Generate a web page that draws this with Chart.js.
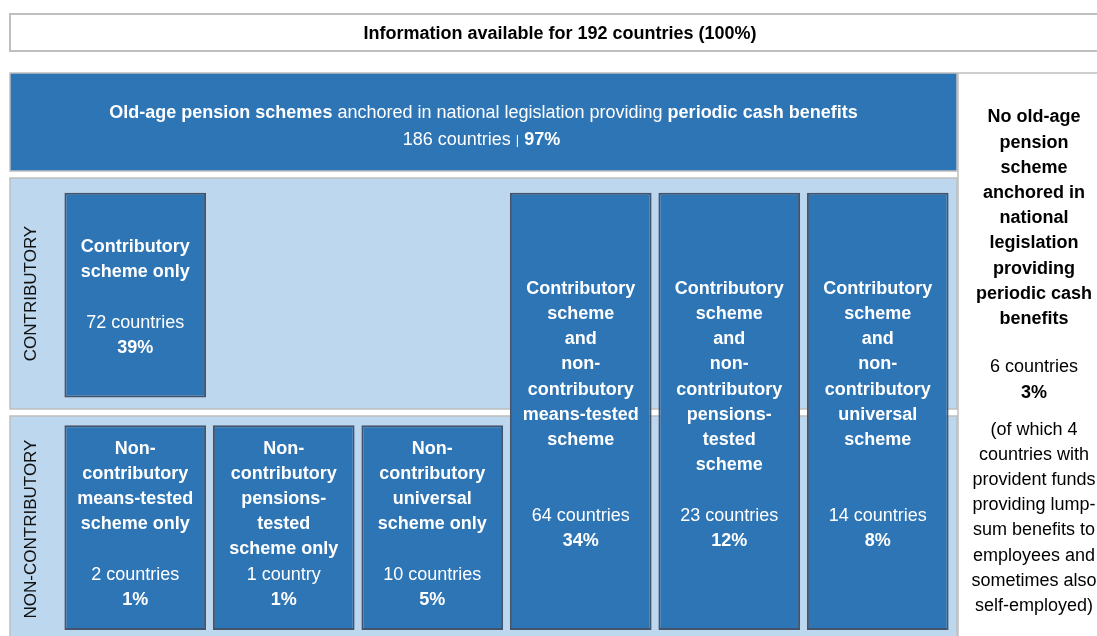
<!DOCTYPE html>
<html lang="en">
<head>
<meta charset="UTF-8">
<title>Old-age pension schemes anchored in national legislation</title>
<style>
  body { margin: 0; padding: 0; background: #ffffff; }
  .wrap { position: relative; width: 1097px; height: 636px; }
</style>
</head>
<body>
<div class="wrap"><canvas id="schemes"></canvas></div>

<script src="https://cdn.jsdelivr.net/npm/chart.js"></script>
<script>
// ---- data ----
const totalCountries = 192;
const coveredCountries = 186;
const coveredShare = 97;
const noneCountries = 6;
const noneShare = 3;
const noneProvident = 4;

// columns of the diagram
const columns = [
  'Contributory only / Non-contributory means-tested only',
  'Non-contributory pensions-tested only',
  'Non-contributory universal only',
  'Contributory + non-contributory means-tested',
  'Contributory + non-contributory pensions-tested',
  'Contributory + non-contributory universal'
];

const schemeTitles = [
  ['Contributory', 'scheme only'],
  ['Non-', 'contributory', 'means-tested', 'scheme only'],
  ['Non-', 'contributory', 'pensions-', 'tested', 'scheme only'],
  ['Non-', 'contributory', 'universal', 'scheme only'],
  ['Contributory', 'scheme', 'and', 'non-', 'contributory', 'means-tested', 'scheme'],
  ['Contributory', 'scheme', 'and', 'non-', 'contributory', 'pensions-', 'tested', 'scheme'],
  ['Contributory', 'scheme', 'and', 'non-', 'contributory', 'universal', 'scheme']
];
const schemeColumn = [columns[0], columns[0], columns[1], columns[2], columns[3], columns[4], columns[5]];
const schemeCountries = [72, 2, 1, 10, 64, 23, 14];
const schemeShares = [39, 1, 1, 5, 34, 12, 8];
const hasContributory = [true, false, false, false, true, true, true];
const hasNonContributory = [false, true, true, true, true, true, true];

// rows on the y axis: 0 = non-contributory, 1 = contributory
const FONT = '"Liberation Sans", Arial, sans-serif';
const DARK_BLUE = '#2e75b6';
const LIGHT_BLUE = '#bdd7ee';
const GREY = '#bfbfbf';
const TEXT_DY = 2.5; // nudge so 'middle' matches cap-height centre

function rowRange(i) {
  const lo = hasNonContributory[i] ? 0 : 1;
  const hi = hasContributory[i] ? 2 : 1;
  // small insets so the boxes sit inside the row bands
  return [lo + (lo === 0 ? 0.026 : 0.041), hi - (hi === 2 ? 0.064 : 0.080)];
}

function drawRuns(ctx, runs, cx, cy, color) {
  let total = 0;
  runs.forEach(r => {
    ctx.font = (r.bold ? 'bold ' : '') + (r.size || 18) + 'px ' + FONT;
    r.w = ctx.measureText(r.text).width;
    total += r.w;
  });
  let x = cx - total / 2;
  ctx.fillStyle = color;
  ctx.textAlign = 'left';
  ctx.textBaseline = 'middle';
  runs.forEach(r => {
    ctx.font = (r.bold ? 'bold ' : '') + (r.size || 18) + 'px ' + FONT;
    ctx.fillText(r.text, x, cy + TEXT_DY);
    x += r.w;
  });
}

function drawLines(ctx, lines, cx, y0, pitch, color) {
  ctx.fillStyle = color;
  ctx.textAlign = 'center';
  ctx.textBaseline = 'middle';
  lines.forEach((l, k) => {
    if (!l.text) return;
    ctx.font = (l.bold ? 'bold ' : '') + '18px ' + FONT;
    ctx.fillText(l.text, cx, y0 + k * pitch + TEXT_DY);
  });
}

const PITCH = 25.2;

const schemeLayout = {
  id: 'schemeLayout',
  beforeDatasetsDraw(chart) {
    const ctx = chart.ctx;
    const ca = chart.chartArea;
    const y = chart.scales.y;
    const left = 10, right = ca.right + 5;
    ctx.save();

    // top box
    ctx.fillStyle = '#ffffff';
    ctx.strokeStyle = GREY;
    ctx.lineWidth = 2;
    ctx.fillRect(left, 14, 1100, 37);
    ctx.strokeRect(left, 14, 1100, 37);
    drawRuns(ctx, [{ text: 'Information available for ' + totalCountries + ' countries (100%)', bold: true }], 560, 32, '#000');

    // header
    const hTop = ca.top - 105, hBot = ca.top - 7;
    ctx.fillStyle = DARK_BLUE;
    ctx.fillRect(left, hTop, right - left, hBot - hTop);
    ctx.lineWidth = 1.5;
    ctx.strokeRect(left, hTop, right - left, hBot - hTop);
    drawRuns(ctx, [
      { text: 'Old-age pension schemes', bold: true },
      { text: ' anchored in national legislation providing ' },
      { text: 'periodic cash benefits', bold: true }
    ], (left + right) / 2, hTop + 38, '#ffffff');
    drawRuns(ctx, [
      { text: coveredCountries + ' countries ' },
      { text: '|', size: 13 },
      { text: ' ' + coveredShare + '%', bold: true }
    ], (left + right) / 2 - 2, hTop + 65, '#ffffff');

    // row bands
    const mid = y.getPixelForValue(1);
    const bands = [
      { top: y.getPixelForValue(2), bot: mid + 2, label: 'CONTRIBUTORY' },
      { top: mid + 9, bot: ca.bottom + 6, label: 'NON-CONTRIBUTORY' }
    ];
    bands.forEach(b => {
      ctx.fillStyle = LIGHT_BLUE;
      ctx.fillRect(left, b.top, right - left, b.bot - b.top);
      ctx.strokeStyle = GREY;
      ctx.lineWidth = 1.5;
      ctx.strokeRect(left, b.top, right - left, b.bot - b.top);
      ctx.save();
      ctx.translate(31, (b.top + b.bot) / 2);
      ctx.rotate(-Math.PI / 2);
      ctx.fillStyle = '#111';
      ctx.font = '17px ' + FONT;
      ctx.textAlign = 'center';
      ctx.textBaseline = 'middle';
      ctx.fillText(b.label, 0, 0);
      ctx.restore();
    });

    // right column: no scheme
    const rx = right + 1;
    ctx.fillStyle = '#ffffff';
    ctx.fillRect(rx, hTop, 160, 640 - hTop);
    ctx.strokeStyle = GREY;
    ctx.lineWidth = 1.5;
    ctx.strokeRect(rx, hTop, 160, 640 - hTop);
    const cx = rx + 76;
    const title = ['No old-age', 'pension', 'scheme', 'anchored in', 'national', 'legislation', 'providing', 'periodic cash', 'benefits'];
    drawLines(ctx, title.map(t => ({ text: t, bold: true })), cx, hTop + 42, PITCH, '#000');
    const y2 = hTop + 42 + (title.length + 1) * PITCH - 2;
    drawLines(ctx, [{ text: noneCountries + ' countries' }, { text: noneShare + '%', bold: true }], cx, y2, PITCH, '#000');
    const note = ['(of which ' + noneProvident, 'countries with', 'provident funds', 'providing lump-', 'sum benefits to', 'employees and', 'sometimes also', 'self-employed)'];
    drawLines(ctx, note.map(t => ({ text: t })), cx, y2 + PITCH + 37, PITCH, '#000');

    ctx.restore();
  },
  afterDatasetsDraw(chart) {
    const ctx = chart.ctx;
    const meta = chart.getDatasetMeta(0);
    ctx.save();
    meta.data.forEach((bar, i) => {
      const title = schemeTitles[i];
      const span = (hasContributory[i] ? 1 : 0) + (hasNonContributory[i] ? 1 : 0);
      const slots = hasNonContributory[i] ? 4 * span + 1 : title.length + 1;
      const lines = title.map(t => ({ text: t, bold: true }));
      for (let k = title.length; k < slots; k++) lines.push({ text: '' });
      const n = schemeCountries[i];
      lines.push({ text: n + (n === 1 ? ' country' : ' countries') });
      lines.push({ text: schemeShares[i] + '%', bold: true });
      const top = Math.min(bar.y, bar.base), bot = Math.max(bar.y, bar.base);
      let c = (top + bot) / 2;
      if (!hasContributory[i]) c -= 6;
      else if (span === 2) c += 1;
      const y0 = c - (lines.length - 1) / 2 * PITCH;
      drawLines(ctx, lines, bar.x, y0, PITCH, '#ffffff');
    });
    ctx.restore();
  }
};

new Chart(document.getElementById('schemes'), {
  type: 'bar',
  data: {
    labels: columns,
    datasets: [{
      label: 'Schemes',
      data: schemeTitles.map((t, i) => ({ x: schemeColumn[i], y: rowRange(i) })),
      backgroundColor: DARK_BLUE,
      borderColor: '#44546a',
      borderWidth: 2,
      borderSkipped: false,
      categoryPercentage: 0.954,
      barPercentage: 1
    }]
  },
  options: {
    responsive: true,
    maintainAspectRatio: false,
    animation: false,
    layout: { padding: { left: 61, right: 145, top: 178, bottom: 0 } },
    plugins: {
      legend: { display: false },
      tooltip: { enabled: false }
    },
    scales: {
      x: { display: false },
      y: { display: false, min: 0, max: 2 }
    }
  },
  plugins: [schemeLayout]
});
</script>
</body>
</html>
